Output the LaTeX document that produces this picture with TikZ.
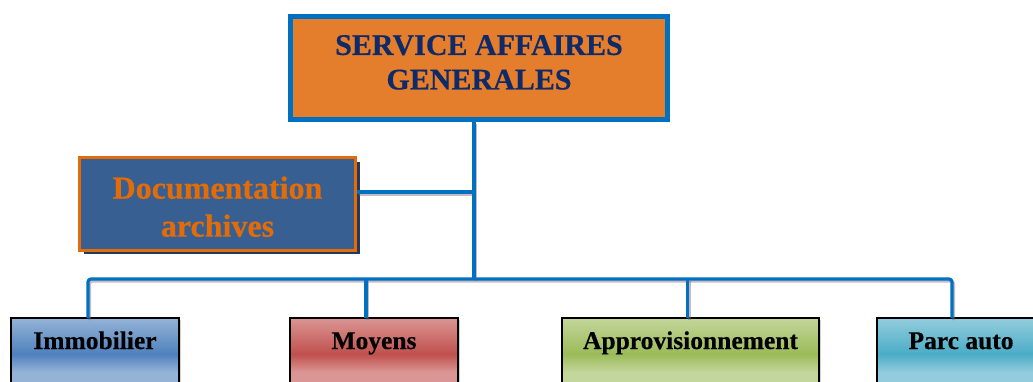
\documentclass[tikz,border=0pt]{standalone}
\usepackage{fontspec}
\setmainfont{Liberation Serif}
\usetikzlibrary{calc,shadows}
\definecolor{lineblue}{HTML}{0070C0}
\definecolor{toporange}{HTML}{E57E2C}
\definecolor{topnavy}{HTML}{0F2A68}
\definecolor{docblue}{HTML}{375F91}
\definecolor{docorange}{HTML}{E36C09}
\definecolor{docshadow}{HTML}{243A5A}
\definecolor{immL}{HTML}{95B3D7}\definecolor{immD}{HTML}{4F81BD}
\definecolor{moyL}{HTML}{DA9694}\definecolor{moyD}{HTML}{C0504D}
\definecolor{appL}{HTML}{C3D69B}\definecolor{appD}{HTML}{9BBB59}
\definecolor{parL}{HTML}{93CDDD}\definecolor{parD}{HTML}{4BACC6}
\pgfdeclareverticalshading{immshade}{100bp}{color(0bp)=(immL); color(42bp)=(immL); color(53bp)=(immD); color(75bp)=(immL); color(100bp)=(immL)}
\pgfdeclareverticalshading{moyshade}{100bp}{color(0bp)=(moyL); color(42bp)=(moyL); color(53bp)=(moyD); color(75bp)=(moyL); color(100bp)=(moyL)}
\pgfdeclareverticalshading{appshade}{100bp}{color(0bp)=(appL); color(42bp)=(appL); color(53bp)=(appD); color(75bp)=(appL); color(100bp)=(appL)}
\pgfdeclareverticalshading{parshade}{100bp}{color(0bp)=(parL); color(42bp)=(parL); color(53bp)=(parD); color(75bp)=(parL); color(100bp)=(parL)}
\begin{document}
\begin{tikzpicture}[x=1pt,y=-1pt,
  topbox/.style={draw=lineblue, line width=5pt, fill=toporange, text=topnavy,
    minimum width=377pt, minimum height=103pt, inner sep=0pt, align=center,
    font=\fontsize{30}{34.5}\selectfont\bfseries\addfontfeature{FakeBold=0.5}},
  docbox/.style={draw=docorange, line width=3pt, fill=docblue, text=docorange,
    minimum width=276pt, minimum height=92.5pt, inner sep=0pt, align=center,
    font=\fontsize{32}{38}\selectfont\bfseries\addfontfeature{FakeBold=0.5},
    drop shadow={shadow xshift=4pt, shadow yshift=-4pt, fill=docshadow, opacity=1}},
  unitbox/.style={draw=black, line width=2pt, anchor=north, inner sep=0pt, outer sep=0pt,
    shading=#1, text height=31pt, text depth=51pt,
    font=\fontsize{25.5}{30}\selectfont\bfseries\addfontfeature{FakeBold=0.4},
    drop shadow={shadow xshift=2pt, shadow yshift=-2pt, opacity=.35}},
  conn/.style={draw=lineblue, line width=3.2pt, rounded corners=3pt},
  connshadow/.style={draw=gray!80!violet, line width=3pt, opacity=.45, rounded corners=3pt,
    transform canvas={shift={(1.5pt,-2pt)}}}
]
\useasboundingbox (0,0) rectangle (1033,381);

\node[topbox] (top) at (479,68) {SERVICE AFFAIRES\\GENERALES\rule[-11.5pt]{0pt}{11.5pt}};
\node[docbox] (doc) at (217.5,204) {\rule{0pt}{27.6pt}Documentation\\archives};

\node[unitbox=immshade, minimum width=168pt] (imm) at (95,318) {Immobilier};
\node[unitbox=moyshade, minimum width=168pt] (moy) at (374,318) {Moyens};
\node[unitbox=appshade, minimum width=257pt] (app) at (690.5,318) {Approvisionnement};
\node[unitbox=parshade, minimum width=168pt] (par) at (961,318) {Parc auto};

\coordinate (hub) at (474,279);

\foreach \st in {connshadow,conn}{
  \draw[\st] (top.south -| hub) -- (hub);
  \draw[\st] ([yshift=12pt]doc.east) -- ([yshift=12pt]doc.east -| hub);
  \draw[\st] ([xshift=-7pt]imm.north) -- ([xshift=-7pt]imm.north |- hub)
     -- ([xshift=-9pt]par.north |- hub) -- ([xshift=-9pt]par.north);
  \draw[\st] ([xshift=-8pt]moy.north) -- ([xshift=-8pt]moy.north |- hub);
  \draw[\st] ([xshift=-3pt]app.north) -- ([xshift=-3pt]app.north |- hub);
}
\end{tikzpicture}
\end{document}
